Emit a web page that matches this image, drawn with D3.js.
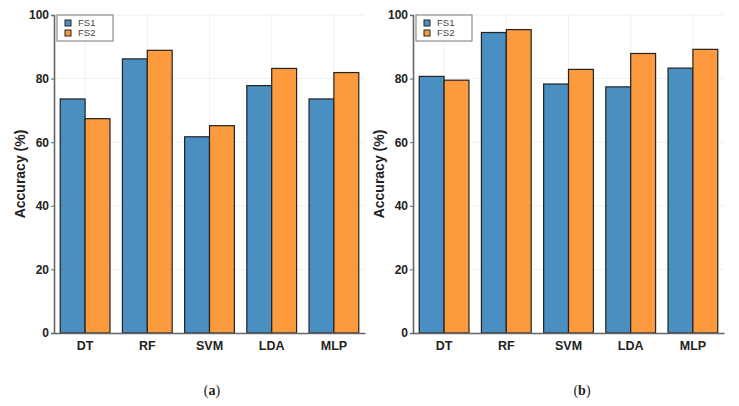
<!DOCTYPE html>
<html><head><meta charset="utf-8">
<script src="https://cdn.jsdelivr.net/npm/d3@7"></script>
<style>body{margin:0;background:#fff}svg{display:block}</style>
</head><body>
<svg id="c" width="739" height="406"></svg>
<script>
const categories = ["DT", "RF", "SVM", "LDA", "MLP"];
const seriesNames = ["FS1", "FS2"];
const fs1_a = [73.6, 86.2, 61.7, 77.8, 73.6];
const fs2_a = [67.4, 88.9, 65.2, 83.2, 81.9];
const fs1_b = [80.7, 94.5, 78.3, 77.4, 83.3];
const fs2_b = [79.5, 95.4, 82.9, 87.9, 89.2];
const yTicks = [0, 20, 40, 60, 80, 100];
const captions = ["a", "b"];
const colors = ["#4a8fc2", "#fd9a3e"];
const SANS = "'Liberation Sans', Arial, Helvetica, sans-serif";

const svg = d3.select("#c");

function panel(x0, x1, s1, s2, cap, capX) {
  const y = d3.scaleLinear().domain([0, 100]).range([333, 15]);
  const x = d3.scaleBand().domain(categories).range([x0, x1]).paddingInner(0.2).paddingOuter(0.1);
  const xs = d3.scaleBand().domain(seriesNames).range([0, x.bandwidth()]);
  const g = svg.append("g");
  g.selectAll(".hg").data(yTicks.slice(1)).join("line")
    .attr("x1", x0).attr("x2", x1).attr("y1", d => y(d)).attr("y2", d => y(d))
    .attr("stroke", "#f0f0f0").attr("stroke-width", 1);
  g.selectAll(".vg").data(categories).join("line")
    .attr("x1", d => x(d) + x.bandwidth() / 2).attr("x2", d => x(d) + x.bandwidth() / 2)
    .attr("y1", 15).attr("y2", 333)
    .attr("stroke", "#f0f0f0").attr("stroke-width", 1);
  const data = [s1, s2];
  data.forEach((vals, si) => {
    g.selectAll(".b" + si).data(categories).join("rect")
      .attr("x", d => x(d) + xs(seriesNames[si]))
      .attr("width", xs.bandwidth())
      .attr("y", (d, i) => y(vals[i]))
      .attr("height", (d, i) => y(0) - y(vals[i]))
      .attr("fill", colors[si]).attr("stroke", "#222").attr("stroke-width", 1.2);
  });
  const ya = g.append("g").attr("transform", `translate(${x0},0)`)
    .call(d3.axisLeft(y).tickValues(yTicks).tickSize(3).tickPadding(2));
  ya.select(".domain").attr("stroke", "#666").attr("stroke-width", 1.6);
  ya.selectAll(".tick line").attr("stroke", "#666");
  ya.selectAll("text").attr("font-family", SANS)
    .attr("font-weight", "bold").attr("font-size", 12).attr("fill", "#222");
  const xa = g.append("g").attr("transform", `translate(0,333)`)
    .call(d3.axisBottom(x).tickSize(0).tickPadding(8).tickSizeOuter(0));
  xa.select(".domain").attr("stroke", "#666").attr("stroke-width", 1.6);
  xa.selectAll("text").attr("font-family", SANS)
    .attr("font-weight", "bold").attr("font-size", 12.5).attr("fill", "#222");
  g.append("text").attr("transform", `translate(${x0 - 29},174) rotate(-90)`)
    .attr("text-anchor", "middle").attr("font-family", SANS)
    .attr("font-weight", "bold").attr("font-size", 14).attr("fill", "#222").text("Accuracy (%)");
  const lg = g.append("g").attr("transform", `translate(${x0 + 3},15)`);
  lg.append("rect").attr("width", 56).attr("height", 26).attr("fill", "#fff")
    .attr("stroke", "#777").attr("stroke-width", 1);
  seriesNames.forEach((n, i) => {
    lg.append("rect").attr("x", 8).attr("y", 5 + i * 10).attr("width", 6).attr("height", 6)
      .attr("fill", colors[i]).attr("stroke", "#222").attr("stroke-width", 1);
    lg.append("text").attr("x", 21).attr("y", 11 + i * 10)
      .attr("font-family", SANS).attr("font-size", 9.5)
      .attr("fill", "#444").text(n);
  });
  const t = svg.append("text").attr("x", capX).attr("y", 395)
    .attr("text-anchor", "middle").attr("font-family", "'Liberation Serif', 'DejaVu Serif', serif")
    .attr("font-size", 14).attr("fill", "#222");
  t.append("tspan").text("(");
  t.append("tspan").attr("font-weight", "bold").text(cap);
  t.append("tspan").text(")");
}

panel(54, 365, fs1_a, fs2_a, captions[0], 212);
panel(413, 724, fs1_b, fs2_b, captions[1], 582);
</script>
</body></html>
